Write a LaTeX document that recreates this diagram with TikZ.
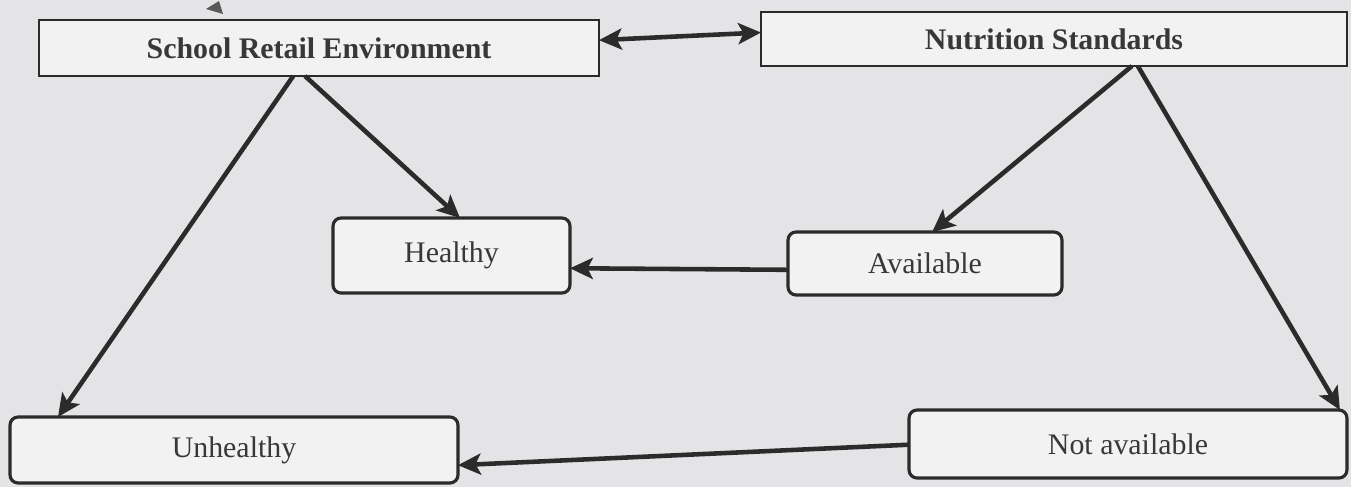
\documentclass[tikz,border=0pt]{standalone}
\usepackage{fontspec}
\setmainfont{Liberation Serif}
\usetikzlibrary{calc,arrows.meta}
\definecolor{bgc}{HTML}{E4E4E7}
\definecolor{boxfill}{HTML}{F2F2F3}
\definecolor{ink}{HTML}{2B2B2B}
\definecolor{txt}{HTML}{383838}
\tikzset{
  topbox/.style={draw=ink, line width=1.1pt, fill=boxfill, rectangle, outer sep=0pt,
    inner sep=0pt, font=\fontsize{17}{20}\selectfont\bfseries, text=txt},
  roundbox/.style={draw=ink, line width=1.8pt, fill=boxfill, rectangle, rounded corners=0.16cm,
    outer sep=0pt, inner sep=0pt, font=\fontsize{17}{20}\selectfont, text=txt},
  conn/.style={draw=ink, line width=2.6pt, -{Stealth[length=13pt,width=12pt,inset=3pt]}},
  dconn/.style={draw=ink, line width=2.6pt, {Stealth[length=13pt,width=12pt,inset=3pt]}-{Stealth[length=13pt,width=12pt,inset=3pt]}}
}
\begin{document}
\begin{tikzpicture}[x=0.02cm,y=-0.02cm]
\fill[bgc] (0,0) rectangle (1351,487);
\useasboundingbox (0,0) rectangle (1351,487);
% stray mark
\fill[black!65] (206,9) -- (219,1) -- (223,14) -- cycle;
% nodes
\node[topbox, minimum width=11.2cm, minimum height=1.12cm] (sre) at (319,48) {School Retail Environment};
\node[topbox, minimum width=11.72cm, minimum height=1.08cm] (ns) at (1054,39) {Nutrition Standards};
\node[roundbox, minimum width=4.74cm, minimum height=1.5cm] (healthy) at (451.5,255.5) {Healthy};
\node[roundbox, minimum width=5.48cm, minimum height=1.26cm] (avail) at (925,263.5) {Available};
\node[roundbox, minimum width=8.96cm, minimum height=1.32cm] (unh) at (234,450) {Unhealthy};
\node[roundbox, minimum width=8.76cm, minimum height=1.36cm] (na) at (1128,444) {Not available};
% connectors
\draw[dconn] ($(sre.north east)!0.36!(sre.south east)$) -- ($(ns.north west)!0.38!(ns.south west)$);
\draw[conn] ($(sre.south west)!0.454!(sre.south east)$) -- ($(unh.north west)!0.107!(unh.north east)$);
\draw[conn] ($(sre.south west)!0.475!(sre.south east)$) -- ($(healthy.north west)!0.536!(healthy.north east)$);
\draw[conn] ($(ns.south west)!0.633!(ns.south east)$) -- ($(avail.north west)!0.526!(avail.north east)$);
\draw[conn] ($(ns.south west)!0.643!(ns.south east)$) -- ($(na.north west)!0.984!(na.north east)$);
\draw[conn] ($(avail.north west)!0.6!(avail.south west)$) -- ($(healthy.north east)!0.67!(healthy.south east)$);
\draw[conn] ($(na.north west)!0.51!(na.south west)$) -- ($(unh.north east)!0.73!(unh.south east)$);
\end{tikzpicture}
\end{document}
